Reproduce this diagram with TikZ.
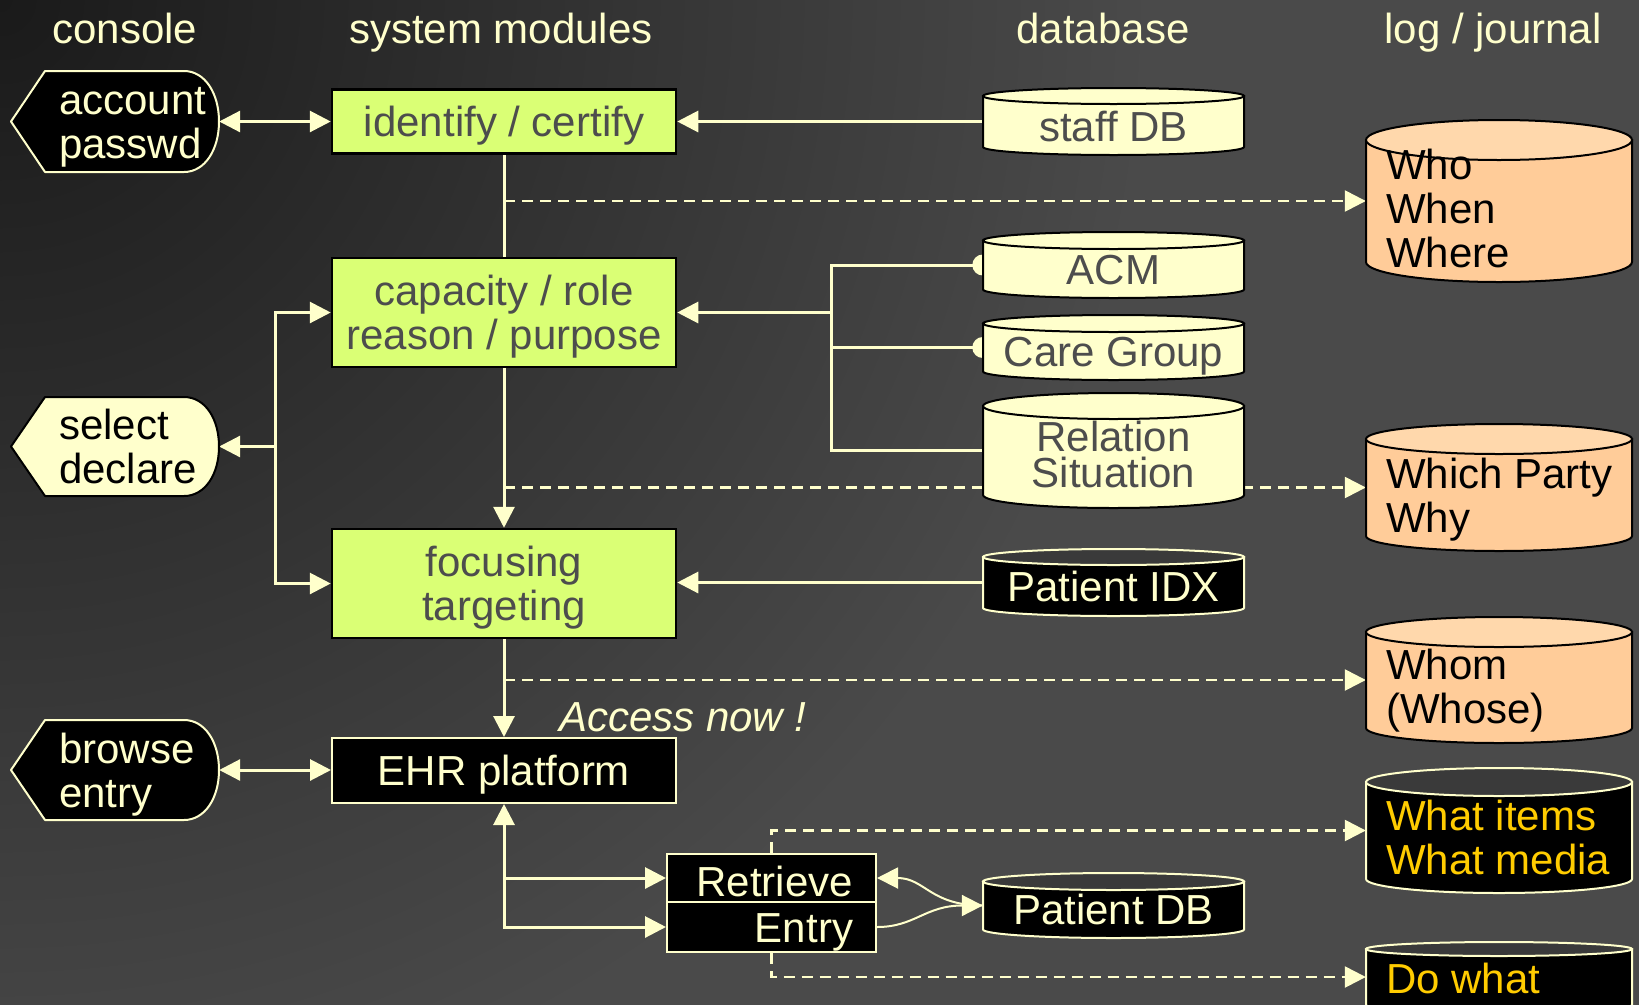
\documentclass[tikz,border=0pt]{standalone}
\usepackage{fontspec}
\setmainfont{Liberation Sans}
\usetikzlibrary{arrows.meta}

\definecolor{cream}{HTML}{FFFFCC}
\definecolor{modfill}{HTML}{DAFF75}
\definecolor{modtext}{HTML}{4D4D4D}
\definecolor{peach}{HTML}{FFCC99}
\definecolor{peachlid}{HTML}{FFD8AC}
\definecolor{gold}{HTML}{FFCC00}
\definecolor{darklid}{HTML}{3A3A3A}
\definecolor{bgdark}{HTML}{1A1A1A}
\definecolor{bglight}{HTML}{4A4A4A}

% dark corner fading out to the plain backdrop colour
\pgfdeclareradialshading{vignette}{\pgfpoint{0bp}{0bp}}{%
  color(0bp)=(bgdark); color(12bp)=(bglight); color(50bp)=(bglight)}

\pgfdeclarelayer{back}
\pgfdeclarelayer{edges}
\pgfsetlayers{back,edges,main}

% stacked lines of text, baseline on the first line
\newcommand\txtrows[2][l]{\begin{tabular}[t]{@{}#1@{}}#2\end{tabular}}

% database / log cylinder: name, left, right, top, bottom, lid radius, body, lid, line
\newcommand\dbcyl[9]{%
  \pgfmathsetmacro\cxm{(#2+#3)/2}%
  \pgfmathsetmacro\ckx{0.5523*(#3-#2)/2}%
  \pgfmathsetmacro\cyt{#4+#6}%
  \pgfmathsetmacro\cyb{#5-#6}%
  \pgfmathsetmacro\cyl{#4+2*#6}%
  \pgfmathsetmacro\cka{\cyt-0.5523*#6}%
  \pgfmathsetmacro\ckb{\cyt+0.5523*#6}%
  \pgfmathsetmacro\ckc{\cyb+0.5523*#6}%
  \pgfmathsetmacro\cxa{\cxm-\ckx}%
  \pgfmathsetmacro\cxb{\cxm+\ckx}%
  \path[fill=#7, draw=#9, line width=2bp]
    (#2,\cyt) -- (#2,\cyb) .. controls (#2,\ckc) and (\cxa,#5) .. (\cxm,#5)
    .. controls (\cxb,#5) and (#3,\ckc) .. (#3,\cyb) -- (#3,\cyt) -- cycle;
  \path[fill=#8, draw=#9, line width=2bp]
    (#2,\cyt) .. controls (#2,\cka) and (\cxa,#4) .. (\cxm,#4)
    .. controls (\cxb,#4) and (#3,\cka) .. (#3,\cyt)
    .. controls (#3,\ckb) and (\cxb,\cyl) .. (\cxm,\cyl)
    .. controls (\cxa,\cyl) and (#2,\ckb) .. cycle;
  \node[inner sep=0pt, minimum width={(#3-#2)*1bp}, minimum height={(#5-#4)*1bp}]
    (#1) at (\cxm,{(#4+#5)/2}) {};
}

% console display shape: name, top, bottom, fill, line, text colour, text
\newcommand\consolehex[7]{%
  \pgfmathsetmacro\hxm{(#2+#3)/2}%
  \pgfmathsetmacro\hxa{\hxm-28}%
  \pgfmathsetmacro\hxb{\hxm+28}%
  \path[fill=#4, draw=#5, line width=2bp, line join=round]
    (11,\hxm) -- (45,#2) -- (184,#2) .. controls (205,#2) and (219,\hxa) .. (219,\hxm)
    .. controls (219,\hxb) and (205,#3) .. (184,#3) -- (45,#3) -- cycle;
  \node[inner sep=0pt, minimum width=208bp, minimum height={(#3-#2)*1bp}] (#1) at (115,\hxm) {};
  \node[anchor=west, inner sep=0pt, text=#6, twoline] (#1-t) at (59,\hxm) {\txtrows{#7}};
}

\begin{document}
\begin{tikzpicture}[x=1bp, y=-1bp,
  font=\fontsize{42bp}{44bp}\selectfont,
  >={Triangle[length=21bp,width=21bp]},
  oneline/.style={text height=30bp, text depth=0bp},
  twoline/.style={text height=30bp, text depth=44bp},
  threeline/.style={text height=30bp, text depth=88bp},
  conn/.style={draw=cream, line width=3bp},
  thinconn/.style={draw=cream, line width=2bp},
  dashc/.style={draw=cream, line width=2.5bp, dash pattern=on 11bp off 7bp},
  hdr/.style={text=cream, inner sep=0pt, oneline},
  modbox/.style={rectangle, fill=modfill, draw=black, line width=2.5bp, text=modtext,
                 inner sep=0pt, minimum width=344bp},
  darkbox/.style={rectangle, fill=black, draw=cream, line width=2bp, text=cream, inner sep=0pt},
  dbtext/.style={inner sep=0pt, oneline},
  logtext/.style={inner sep=0pt, anchor=west},
]
\useasboundingbox (0,0) rectangle (1639,1004);

% backdrop
\begin{pgfonlayer}{back}
  \fill[bglight] (0,0) rectangle (1639,1004);
  \begin{scope}
    \clip (0,0) rectangle (1639,1004);
    \shade[shading=vignette] (0,0) circle (2400bp);
  \end{scope}
\end{pgfonlayer}

% column headings
\node[hdr] (hcon) at (125,28) {console};
\node[hdr] (hsys) at (501,28) {system modules};
\node[hdr] (hdb)  at (1103,28) {database};
\node[hdr] (hlog) at (1493,28) {log / journal};

% console
\consolehex{acct}{71}{172}{black}{cream}{cream}{account\\passwd}
\consolehex{sel}{397}{496}{cream}{black}{black}{select\\declare}
\consolehex{brw}{720}{820}{black}{cream}{cream}{browse\\entry}

% system modules
\node[modbox, minimum height=64bp, oneline] (ident) at (504,121.5) {identify / certify};
\node[modbox, minimum height=109bp, twoline] (cap) at (504,312.5) {\txtrows[c]{capacity / role\\reason / purpose}};
\node[modbox, minimum height=109bp, twoline] (foc) at (504,583.5) {\txtrows[c]{focusing\\targeting}};
\node[darkbox, minimum width=344bp, minimum height=65bp, oneline] (ehr) at (504,770.5) {EHR platform};
\node[darkbox, minimum width=209bp, minimum height=48bp, text height=36bp, text depth=0bp]
  (retr) at (771.5,878) {\makebox[163bp][r]{Retrieve}};
\node[darkbox, minimum width=209bp, minimum height=50bp, oneline]
  (entr) at (771.5,927) {\makebox[163bp][r]{Entry}};
\node[inner sep=0pt, anchor=west, oneline, text=cream, font=\fontsize{42bp}{44bp}\selectfont\itshape]
  (acc) at (559,716) {Access now !};

% databases
\dbcyl{staff}{983}{1244}{88}{155}{8}{cream}{cream}{black}
\dbcyl{acm}{983}{1244}{232}{298}{8.5}{cream}{cream}{black}
\dbcyl{care}{983}{1244}{315}{380}{8.5}{cream}{cream}{black}
\dbcyl{rel}{983}{1244}{393}{508}{13}{cream}{cream}{black}
\dbcyl{pidx}{983}{1244}{549}{616}{8}{black}{darklid}{cream}
\dbcyl{pdb}{983}{1244}{873}{938}{8.5}{black}{darklid}{cream}
\node[dbtext, text=modtext] (staff-t) at (1113.5,126) {staff DB};
\node[dbtext, text=modtext] (acm-t) at (1113.5,269) {ACM};
\node[dbtext, text=modtext] (care-t) at (1113.5,351) {Care Group};
\node[inner sep=0pt, text=modtext, text height=30bp, text depth=36bp] (rel-t) at (1113.5,454)
  {\txtrows[c]{Relation\\[-8bp]Situation}};
\node[dbtext, text=cream] (pidx-t) at (1113.5,586.5) {Patient IDX};
\node[dbtext, text=cream] (pdb-t) at (1113.5,909) {Patient DB};

% log / journal
\dbcyl{who}{1366}{1632}{120}{282}{20}{peach}{peachlid}{black}
\dbcyl{wp}{1366}{1632}{424}{551}{15}{peach}{peachlid}{black}
\dbcyl{whom}{1366}{1632}{617}{743}{15}{peach}{peachlid}{black}
\dbcyl{wi}{1366}{1632}{768}{893}{14}{black}{darklid}{cream}
\dbcyl{dw}{1366}{1632}{942}{1012}{7}{black}{darklid}{cream}
\node[logtext, threeline, text=black] (who-t) at (1386,208.5) {\txtrows{Who\\When\\Where}};
\node[logtext, twoline, text=black] (wp-t) at (1386,495) {\txtrows{Which Party\\Why}};
\node[logtext, twoline, text=black] (whom-t) at (1386,686) {\txtrows{Whom\\(Whose)}};
\node[logtext, twoline, text=gold] (wi-t) at (1386,837) {\txtrows{What items\\What media}};
\node[logtext, oneline, text=gold] (dw-t) at (1386,978.5) {Do what};

% connectors
\begin{pgfonlayer}{edges}
  \draw[conn,<->] (acct.east) -- (acct.east -| ident.west);
  \draw[conn,->] (staff.west) -- (staff.west -| ident.east);
  \draw[conn] (ident.south) -- (cap.north);
  \draw[conn,->] (cap.south) -- (foc.north);
  \draw[conn,->] (foc.south) -- (ehr.north);

  \coordinate (rj) at (831,312.5);
  \draw[conn,->] (rj) -- (cap.east);
  \draw[conn] (acm.west) -| (rj |- rel.west) -- (rel.west);
  \draw[conn] (care.west) -- (care.west -| rj);
  \fill[cream] (acm.west) circle (10.5bp);
  \fill[cream] (care.west) circle (10.5bp);

  \coordinate (lj) at (275,446.5);
  \draw[conn,<->] (cap.west) -| (lj) |- (foc.west);
  \draw[conn,->] (lj) -- (sel.east);

  \draw[conn,->] (pidx.west) -- (pidx.west -| foc.east);
  \draw[conn,<->] (brw.east) -- (brw.east -| ehr.west);
  \draw[conn,<->] (ehr.south) |- (entr.west);
  \draw[conn,->] (ehr.south |- retr.west) -- (retr.west);

  \draw[thinconn,->] (pdb.west) .. controls (930,905.5) and (925,878) .. (retr.east);
  \draw[thinconn,->] (entr.east) .. controls (915,927) and (925,905.5) .. (pdb.west);

  \draw[dashc,->] (ident.south |- who.west) -- (who.west);
  \draw[dashc,->] (cap.south |- wp.west) -- (wp.west);
  \draw[dashc,->] (foc.south |- whom.west) -- (whom.west);
  \draw[dashc,->] (retr.north) |- (wi.west);
  \draw[dashc,->] (entr.south) |- (dw.west);
\end{pgfonlayer}
\end{tikzpicture}
\end{document}
